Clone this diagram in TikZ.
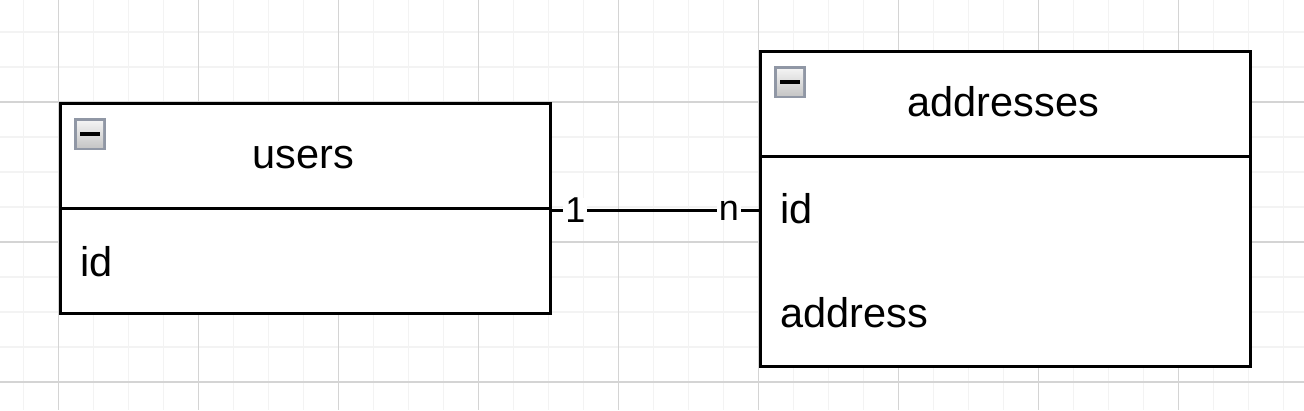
\documentclass[tikz,border=0pt]{standalone}
\usepackage{fontspec}
\setmainfont{Liberation Sans}
\definecolor{minorgrid}{HTML}{F3F3F3}
\definecolor{majorgrid}{HTML}{D4D4D4}
\definecolor{iconborder}{HTML}{9097A5}
\begin{document}
\begin{tikzpicture}[x=1pt,y=-1pt,
  minorline/.style={draw=minorgrid, line width=1.5pt},
  majorline/.style={draw=majorgrid, line width=1.5pt},
  tblpart/.style={draw=black, line width=3.4pt, fill=white, rectangle, inner sep=0pt, anchor=north west},
  titletext/.style={font=\fontsize{41.5}{48}\selectfont, inner sep=0pt, anchor=base},
  fieldtext/.style={font=\fontsize{41.5}{48}\selectfont, inner sep=0pt, anchor=base west},
  conn/.style={draw=black, line width=3pt},
  card/.style={font=\fontsize{36}{40}\selectfont, fill=white, inner xsep=2pt, inner ysep=0pt},
  collapse/.pic={
    \fill[iconborder] (0,0) rectangle (32,32);
    \shade[top color=white!95!black, bottom color=black!22] (3,3) rectangle (29,29);
    \fill[black] (6,14) rectangle (26,18);
  }]
\useasboundingbox (0,0) rectangle (1304,410);
\fill[white] (0,0) rectangle (1304,410);
% grid
\foreach \i in {0,...,36} \draw[minorline] ({23.5+35*\i},0) -- ({23.5+35*\i},410);
\foreach \j in {0,...,12} \draw[minorline] (0,{-3+35*\j}) -- (1304,{-3+35*\j});
\foreach \i in {0,...,8} \draw[majorline] ({58.5+140*\i},0) -- ({58.5+140*\i},410);
\foreach \j in {0,...,2} \draw[majorline] (0,{102+140*\j}) -- (1304,{102+140*\j});
% users table
\node[tblpart, minimum width=490pt, minimum height=105pt] (usershead) at (58.5,102) {};
\node[tblpart, minimum width=490pt, minimum height=105pt] (usersbody) at (58.5,207) {};
\pic at (74,118) {collapse};
\node[titletext] (userstitle) at (303.5,168) {users};
\node[fieldtext] (usersidtext) at (80,276) {id};
% addresses table
\node[tblpart, minimum width=490pt, minimum height=105pt] (addrhead) at (758.5,49.5) {};
\node[tblpart, minimum width=490pt, minimum height=210pt] (addrbody) at (758.5,154.5) {};
\pic at (774,66) {collapse};
\node[titletext] (addrtitle) at (1003.5,116) {addresses};
\node[fieldtext] (addridtext) at (780,223) {id};
\node[fieldtext] (addraddrtext) at (780,327) {address};
% connector
\coordinate (addridrow) at (addrbody.north west |- usershead.south east);
\draw[conn] (usershead.south east) -- node[card, pos=0.114] (card1) {1} node[card, pos=0.857] (cardn) {n} (addridrow);
\end{tikzpicture}
\end{document}
